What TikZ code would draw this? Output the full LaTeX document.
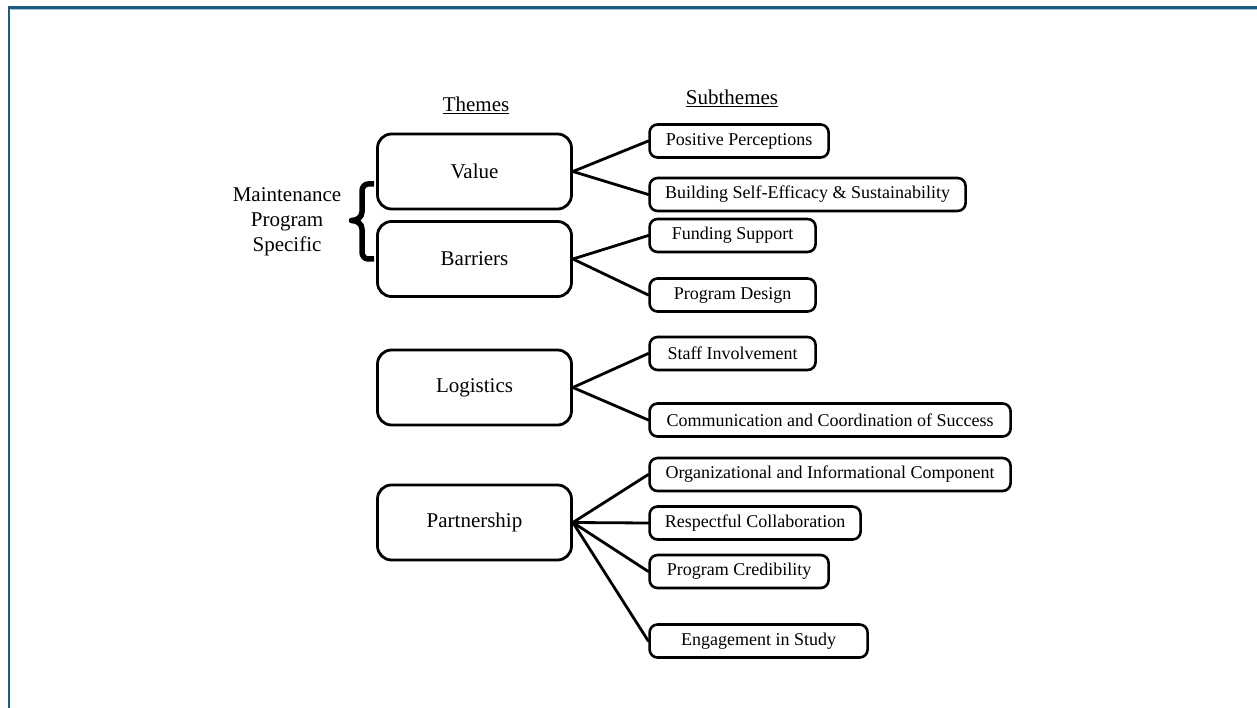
\documentclass[tikz,border=0pt]{standalone}
\usepackage{fontspec}
\setmainfont{Liberation Serif}
\definecolor{framecol}{RGB}{28,92,126}
\definecolor{framelight}{RGB}{160,196,222}
\tikzset{
  theme/.style={draw, line width=2.8pt, rounded corners=14pt, minimum width=194pt,
    minimum height=75pt, inner sep=0pt, font=\fontsize{21}{25}\selectfont},
  sub/.style={draw, line width=2.6pt, rounded corners=8pt, minimum height=33pt,
    inner sep=0pt, anchor=west, font=\fontsize{18}{21}\selectfont},
  link/.style={line width=2.8pt, line cap=round},
  head/.style={font=\fontsize{21}{25}\selectfont, inner sep=0pt},
  bracestroke/.style={line width=5.5pt, line join=round},
}
\begin{document}
\begin{tikzpicture}[x=1pt,y=-1pt]
\useasboundingbox (0,0) rectangle (1257,708);
% frame
\draw[framelight, line width=1.2pt] (10.5,9.6) -- (1257,9.6);
\draw[framecol, line width=2.4pt] (9,708) -- (9,7.6) -- (1257,7.6);

% headers
\node[head] (hthemes) at (476,105) {\underline{Themes}};
\node[head] (hsub) at (732,98) {\underline{Subthemes}};

% themes
\node[theme] (value) at (474.5,171.5) {Value};
\node[theme] (barriers) at (474.5,259) {Barriers};
\node[theme] (logistics) at (474.5,387.5) {Logistics};
\node[theme] (partner) at (474.5,522.5) {Partnership};

% maintenance label and brace
\node[head, align=center] (maint) at (287,222)
  {Maintenance\\Program\\Specific};
\draw[bracestroke] (374,184) -- (368,184) to[out=180,in=90] (362,191) -- (362,212)
  to[out=-90,in=0] (351.5,220.5) to[out=0,in=90] (362,229) -- (362,252)
  to[out=-90,in=180] (368,259) -- (374,259);

% subthemes
\node[sub, minimum width=179pt] (pp) at (648.3,141) {Positive Perceptions};
\node[sub, minimum width=316pt] (bse) at (648.3,194.5) {Building Self-Efficacy \& Sustainability};
\node[sub, minimum width=166pt] (fs) at (648.3,235.5) {Funding Support};
\node[sub, minimum width=166pt] (pd) at (648.3,295) {Program Design};
\node[sub, minimum width=166pt] (si) at (648.3,353.5) {Staff Involvement};
\node[sub, minimum width=361pt] (ccs) at (648.3,420) {Communication and Coordination of Success};
\node[sub, minimum width=361pt] (oic) at (648.3,474.5) {Organizational and Informational Component};
\node[sub, minimum width=211pt] (rc) at (648.3,523) {Respectful Collaboration};
\node[sub, minimum width=179pt] (pc) at (648.3,571.5) {Program Credibility};
\node[sub, minimum width=218pt] (es) at (648.3,641) {Engagement in Study};

% connectors
\draw[link] (value.east) -- (pp.west);
\draw[link] (value.east) -- (bse.west);
\draw[link] (barriers.east) -- (fs.west);
\draw[link] (barriers.east) -- (pd.west);
\draw[link] (logistics.east) -- (si.west);
\draw[link] (logistics.east) -- (ccs.west);
\draw[link] (partner.east) -- (oic.west);
\draw[link] (partner.east) -- (rc.west);
\draw[link] (partner.east) -- (pc.west);
\draw[link] (partner.east) -- (es.west);
\end{tikzpicture}
\end{document}
